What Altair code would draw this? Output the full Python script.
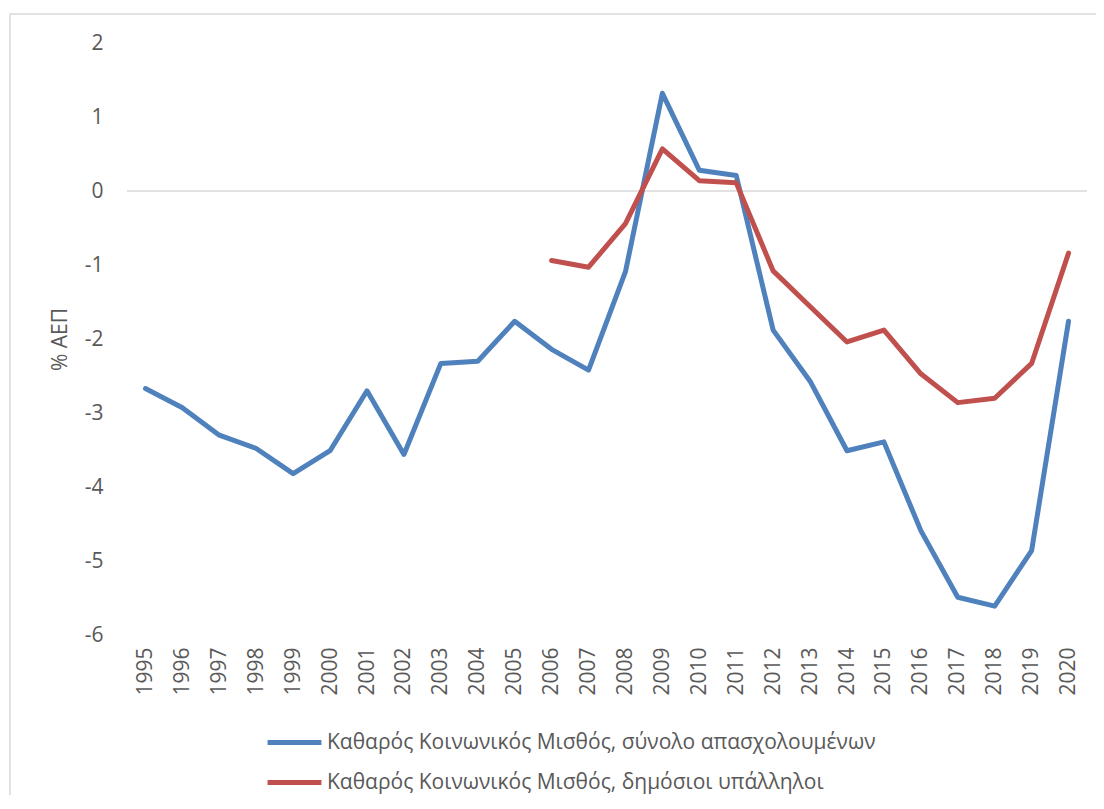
import altair as alt
import pandas as pd

years = [str(y) for y in range(1995, 2021)]
total_vals = [-2.67, -2.93, -3.30, -3.48, -3.82, -3.51, -2.70, -3.56, -2.33, -2.30,
              -1.76, -2.14, -2.42, -1.09, 1.32, 0.28, 0.21, -1.88, -2.57, -3.51,
              -3.39, -4.59, -5.49, -5.61, -4.86, -1.76]
public_years = [str(y) for y in range(2006, 2021)]
public_vals = [-0.94, -1.03, -0.44, 0.57, 0.14, 0.11, -1.08, -1.56, -2.04, -1.88,
               -2.47, -2.86, -2.80, -2.33, -0.84]
series_names = ["Καθαρός Κοινωνικός Μισθός, σύνολο απασχολουμένων",
                "Καθαρός Κοινωνικός Μισθός, δημόσιοι υπάλληλοι"]
colors = ["#4F81BD", "#C0504D"]
y_ticks = [-6, -5, -4, -3, -2, -1, 0, 1, 2]

rows = [{"year": y, "value": v, "series": series_names[0]} for y, v in zip(years, total_vals)]
rows += [{"year": y, "value": v, "series": series_names[1]} for y, v in zip(public_years, public_vals)]
df = pd.DataFrame(rows)

FONT = "Open Sans"
TXT = "#595959"
W, H = 960, 592

zero = alt.Chart(pd.DataFrame({"z": [0]})).mark_rule(color="#d9d9d9", strokeWidth=1.5).encode(
    y=alt.Y("z:Q")
)

lines = alt.Chart(df).mark_line(strokeWidth=5, strokeCap="round", strokeJoin="round").encode(
    x=alt.X("year:O", sort=years, scale=alt.Scale(domain=years, padding=0.5),
            axis=alt.Axis(title=None, labelAngle=-90, labelFontSize=21, labelColor=TXT,
                          labelFont=FONT, domain=False, ticks=False, labelPadding=12,
                          labelBaseline="middle", labelAlign="right")),
    y=alt.Y("value:Q", scale=alt.Scale(domain=[-6, 2], nice=False, zero=False),
            axis=alt.Axis(title="% ΑΕΠ", values=y_ticks, grid=False, domain=False,
                          ticks=False, labelFontSize=21, labelColor=TXT, labelFont=FONT,
                          labelExpr="'' + datum.value",
                          labelPadding=24, titleFontSize=21, titleColor=TXT,
                          titleFont=FONT, titleFontWeight="normal", titlePadding=14)),
    color=alt.Color("series:N", sort=series_names,
                    scale=alt.Scale(domain=series_names, range=colors),
                    legend=alt.Legend(title=None, orient="none", legendX=138, legendY=670,
                                      direction="vertical", symbolType="stroke",
                                      symbolSize=2900, symbolStrokeWidth=5,
                                      labelFontSize=21, labelColor=TXT, labelFont=FONT,
                                      labelOffset=3, rowPadding=-12, labelLimit=800)),
    detail="series:N",
)

border = alt.Chart(pd.DataFrame({"a": [0]})).mark_rect(
    fill=None, stroke="#d9d9d9", strokeWidth=1.5
).encode(
    x=alt.value(-117), x2=alt.value(W + 60), y=alt.value(-29), y2=alt.value(H + 300)
)

chart = alt.layer(border, zero, lines).properties(
    width=W, height=H,
    autosize=alt.AutoSizeParams(type="none"),
    padding={"left": 119, "top": 35, "right": 9, "bottom": 160},
).configure_view(stroke=None)

chart.save("out.html", embed_options={"renderer": "svg", "actions": False})
